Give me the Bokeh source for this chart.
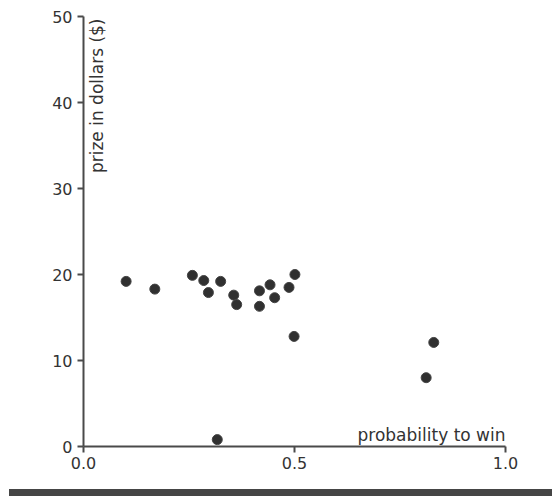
import math
from bokeh.plotting import figure
from bokeh.models import Label, FixedTicker, Div, ColumnDataSource
from bokeh.layouts import column
from bokeh.embed import file_html
from bokeh.resources import INLINE

# data
probability = [0.101, 0.169, 0.258, 0.285, 0.296, 0.325, 0.356, 0.363, 0.417,
               0.417, 0.442, 0.453, 0.487, 0.501, 0.499, 0.830, 0.812, 0.317]
prize = [19.2, 18.3, 19.9, 19.3, 17.9, 19.2, 17.6, 16.5, 18.1,
         16.3, 18.8, 17.3, 18.5, 20.0, 12.8, 12.1, 8.0, 0.8]
x_ticks = [0.0, 0.5, 1.0]
x_tick_labels = {0.0: "0.0", 0.5: "0.5", 1.0: "1.0"}
y_ticks = [0, 10, 20, 30, 40, 50]

FONT = "DejaVu Sans"
TXT = "#333333"
AX = "#4a4a4a"

p = figure(width=530, height=489, x_range=(0, 1), y_range=(0, 50),
           output_backend="svg", toolbar_location=None,
           min_border_left=83, min_border_right=25, min_border_top=16,
           min_border_bottom=43)
p.outline_line_color = None
p.grid.visible = False

src = ColumnDataSource(dict(x=probability, y=prize))
p.scatter("x", "y", source=src, size=10, fill_color="#303030",
          line_color="#444444", line_width=1)

for ax in (p.xaxis[0], p.yaxis[0]):
    ax.axis_line_color = AX
    ax.axis_line_width = 2
    ax.major_tick_line_color = AX
    ax.major_tick_line_width = 2
    ax.major_tick_out = 6
    ax.major_tick_in = 0
    ax.minor_tick_line_color = None
    ax.major_label_text_font = FONT
    ax.major_label_text_font_size = "16px"
    ax.major_label_text_color = TXT

p.xaxis[0].ticker = FixedTicker(ticks=x_ticks)
p.xaxis[0].major_label_overrides = x_tick_labels
p.xaxis[0].major_label_standoff = 4
p.yaxis[0].ticker = FixedTicker(ticks=y_ticks)
p.yaxis[0].major_label_standoff = 5

p.add_layout(Label(x=1.0, y=0, x_offset=0, y_offset=12, text="probability to win",
                   text_align="right", text_baseline="alphabetic",
                   text_font=FONT, text_font_size="17px", text_color=TXT))
p.add_layout(Label(x=0, y=50, x_offset=3, y_offset=-2, text="prize in dollars ($)",
                   angle=math.pi / 2, text_align="right", text_baseline="top",
                   text_font=FONT, text_font_size="17px", text_color=TXT))

band = Div(text="", width=543, height=7, margin=(0, 0, 0, 9),
           styles={"background-color": "#454545"})

layout = column(p, band)
open("out.html", "w").write(file_html(layout, INLINE))
